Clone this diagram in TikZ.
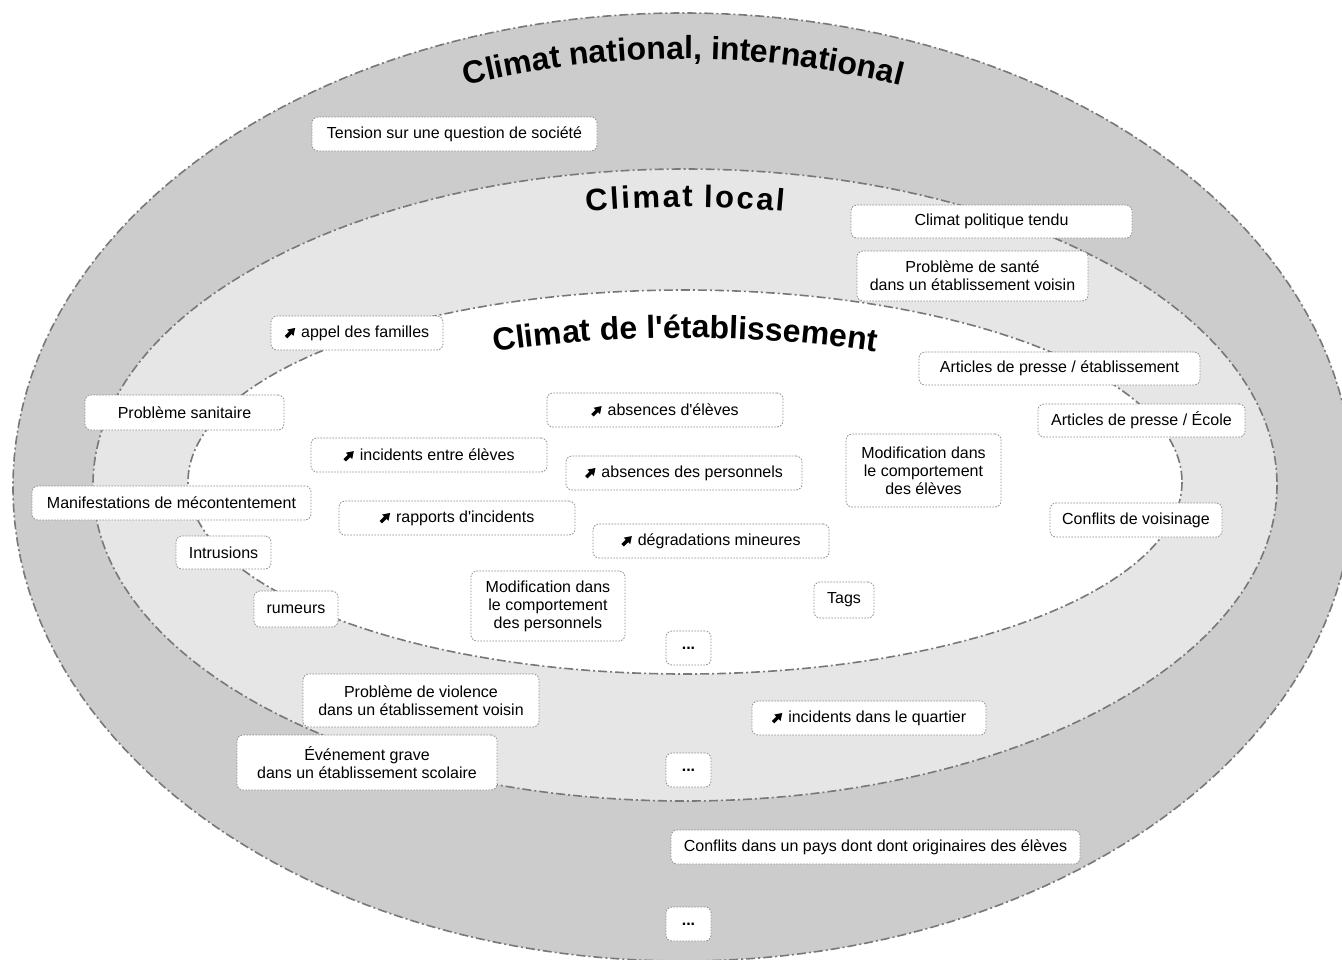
\documentclass[tikz,border=0pt]{standalone}
\usepackage{fontspec}
\setmainfont{Liberation Sans}[Ligatures=TeXOff]
\usetikzlibrary{decorations.text}
\definecolor{outerc}{RGB}{204,204,204}
\definecolor{midc}{RGB}{230,230,230}
\definecolor{linec}{RGB}{120,120,120}
\definecolor{boxc}{RGB}{140,140,140}
\newcommand{\hausse}{\tikz[baseline=0pt,x=1pt,y=1pt,sharp corners,solid]{\fill[black,sharp corners,rotate=45] (0,-1.7) -- (6.2,-1.7) -- (6.2,-4.5) -- (13,0) -- (6.2,4.5) -- (6.2,1.7) -- (0,1.7) -- cycle;}\hspace{6pt}}
\begin{document}
\begin{tikzpicture}[x=1pt,y=-1pt,
  box/.style={draw=boxc, line width=0.8pt, dash pattern=on 1.6pt off 1.4pt,
    fill=white, rounded corners=6pt, inner sep=0pt, align=center,
    font=\fontsize{16}{18}\selectfont},
  zone/.style={draw=linec, line width=1.6pt, dash pattern=on 9pt off 3pt on 2pt off 3pt},
  title/.style={decorate, decoration={text along path, text align=center}}]
\useasboundingbox (0,0) rectangle (1342,959);
\clip (0,0) rectangle (1342,959);
\fill[white] (0,0) rectangle (1342,959);
% zones
\path[zone, fill=outerc] (683,487) ellipse [x radius=670, y radius=474];
\path[zone, fill=midc] (685,485) ellipse [x radius=592, y radius=316];
\path[zone, fill=white] (685,482) ellipse [x radius=497, y radius=192];
% titles
\path[title, decoration={text={|\fontsize{32}{32}\selectfont\bfseries|Climat national, international}}]
  (683,487) ++(225:624 and 428) arc [start angle=225, end angle=315, x radius=624, y radius=428];
\path[title, decoration={text={|\fontsize{31}{31}\selectfont\bfseries|{C\kern2.4pt}{l\kern2.4pt}{i\kern2.4pt}{m\kern2.4pt}{a\kern2.4pt}{t\kern2.4pt} {l\kern2.4pt}{o\kern2.4pt}{c\kern2.4pt}{a\kern2.4pt}l}}]
  (685,485) ++(240:554 and 278) arc [start angle=240, end angle=300, x radius=554, y radius=278];
\path[title, decoration={text={|\fontsize{32}{32}\selectfont\bfseries|Climat de l'établissement}}]
  (685,482) ++(235:449 and 144) arc [start angle=235, end angle=305, x radius=449, y radius=144];
% boxes
\node[box, minimum width=285, minimum height=34] (b1) at (454.5,134) {Tension sur une question de société};
\node[box, minimum width=281, minimum height=33] (b2) at (991.5,221.5) {Climat politique tendu};
\node[box, minimum width=231, minimum height=50] (b3) at (972.5,276) {Problème de santé\\dans un établissement voisin};
\node[box, minimum width=172, minimum height=34] (b4) at (357,333) {\hausse appel des familles};
\node[box, minimum width=281, minimum height=33] (b5) at (1059.5,368.5) {Articles de presse / établissement};
\node[box, minimum width=199, minimum height=35] (b6) at (184.5,412.5) {Problème sanitaire};
\node[box, minimum width=236, minimum height=34] (b7) at (665,410) {\hausse absences d'élèves};
\node[box, minimum width=207, minimum height=33] (b8) at (1141.5,420.5) {Articles de presse / École};
\node[box, minimum width=155, minimum height=73] (b9) at (923.5,470.5) {Modification dans\\le comportement\\des élèves};
\node[box, minimum width=236, minimum height=34] (b10) at (429,455) {\hausse incidents entre élèves};
\node[box, minimum width=236, minimum height=34] (b11) at (684,473) {\hausse absences des personnels};
\node[box, minimum width=279, minimum height=34] (b12) at (171.5,503) {Manifestations de mécontentement};
\node[box, minimum width=236, minimum height=34] (b13) at (457,518) {\hausse rapports d'incidents};
\node[box, minimum width=172, minimum height=34] (b14) at (1136,520) {Conflits de voisinage};
\node[box, minimum width=95, minimum height=33] (b15) at (223.5,552.5) {Intrusions};
\node[box, minimum width=236, minimum height=34] (b16) at (711,541) {\hausse dégradations mineures};
\node[box, minimum width=154, minimum height=70] (b17) at (548,606) {Modification dans\\le comportement\\des personnels};
\node[box, minimum width=60, minimum height=36] (b18) at (844,600) {Tags};
\node[box, minimum width=84, minimum height=36] (b19) at (296,609) {rumeurs};
\node[box, minimum width=45, minimum height=34] (b20) at (688.5,648) {\textbf{...}};
\node[box, minimum width=236, minimum height=53] (b21) at (421,700.5) {Problème de violence\\dans un établissement voisin};
\node[box, minimum width=234, minimum height=34] (b22) at (869,718) {\hausse incidents dans le quartier};
\node[box, minimum width=260, minimum height=55] (b23) at (367,762.5) {Événement grave\\dans un établissement scolaire};
\node[box, minimum width=45, minimum height=34] (b24) at (688.5,770) {\textbf{...}};
\node[box, minimum width=409, minimum height=34] (b25) at (875.5,847) {Conflits dans un pays dont dont originaires des élèves};
\node[box, minimum width=45, minimum height=34] (b26) at (688.5,924) {\textbf{...}};
\end{tikzpicture}
\end{document}
